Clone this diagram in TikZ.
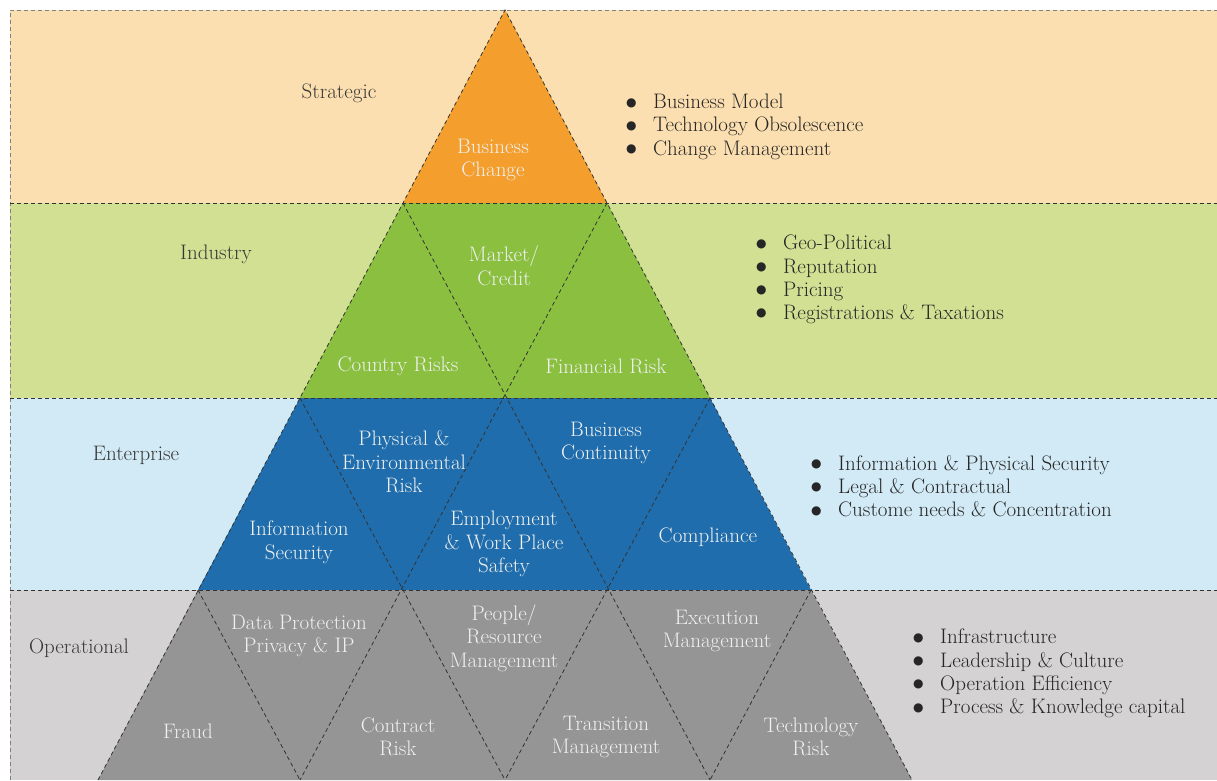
\documentclass[tikz,border=0pt]{standalone}
\usepackage{fontspec}
\newfontfamily\dejavu{DejaVu Sans}
\definecolor{cStrB}{HTML}{FCDFB0}
\definecolor{cStr}{HTML}{F49F2D}
\definecolor{cIndB}{HTML}{D2E093}
\definecolor{cInd}{HTML}{8ABF40}
\definecolor{cEntB}{HTML}{D2EAF6}
\definecolor{cEnt}{HTML}{1F6DAC}
\definecolor{cOpB}{HTML}{D4D2D3}
\definecolor{cOp}{HTML}{959595}
\newcommand{\bul}{\makebox[27pt][l]{\raisebox{2.5pt}{\dejavu\fontsize{12}{12}\selectfont ●}}}
\begin{document}
\begin{tikzpicture}[x=1pt,y=-1pt,
  dl/.style={dash pattern=on 4pt off 3pt, line width=0.8pt, draw=black!80},
  bl/.style={dash pattern=on 4pt off 3pt, line width=0.8pt, draw=black!50},
  tl/.style={text=white!94!black, align=center, inner sep=0pt, font=\fontsize{21}{23.5}\selectfont},
  bandlab/.style={text=black!78, inner sep=0pt, font=\fontsize{21}{23.5}\selectfont},
  blist/.style={anchor=north west, align=left, text=black!85, inner sep=0pt, font=\fontsize{21}{23.2}\selectfont}]
\useasboundingbox (0,0) rectangle (1217,780);
% key points
\coordinate (A) at (505,10);
\coordinate (L1) at (403,203); \coordinate (R1) at (607,203);
\coordinate (L2) at (300,398); \coordinate (R2) at (710,398);
\coordinate (L3) at (198,590); \coordinate (R3) at (811,590);
\coordinate (L4) at (98,780);  \coordinate (R4) at (912,780);
\coordinate (B1) at (300,780); \coordinate (B2) at (505,780); \coordinate (B3) at (710,780);
\coordinate (TL) at (10,10); \coordinate (TR) at (1217,10);
\coordinate (BL) at (10,780);
\coordinate (H1a) at (10,203); \coordinate (H1b) at (1217,203);
\coordinate (H2a) at (10,398); \coordinate (H2b) at (1217,398);
\coordinate (H3a) at (10,590); \coordinate (H3b) at (1217,590);
% bands
\fill[cStrB] (TL) rectangle (H1b);
\fill[cIndB] (H1a) rectangle (H2b);
\fill[cEntB] (H2a) rectangle (H3b);
\fill[cOpB] (H3a) rectangle (1217,780);
% pyramid levels
\fill[cStr] (A) -- (L1) -- (R1) -- cycle;
\fill[cInd] (L1) -- (L2) -- (R2) -- (R1) -- cycle;
\fill[cEnt] (L2) -- (L3) -- (R3) -- (R2) -- cycle;
\fill[cOp] (L3) -- (L4) -- (R4) -- (R3) -- cycle;
% dashed lines
\draw[bl] (BL) -- (TL) -- (TR);
\draw[dl] (H1a) -- (H1b);
\draw[dl] (H2a) -- (H2b);
\draw[dl] (H3a) -- (H3b);
\draw[dl] (L4) -- (A) -- (R4);
\draw[dl] (L1) -- (B3);
\draw[dl] (L2) -- (B2);
\draw[dl] (L3) -- (B1);
\draw[dl] (R1) -- (B1);
\draw[dl] (R2) -- (B2);
\draw[dl] (R3) -- (B3);
% band labels
\node[bandlab] (strategic) at (339,93) {Strategic};
\node[bandlab] (industry) at (216,254) {Industry};
\node[bandlab] (enterprise) at (136,455) {Enterprise};
\node[bandlab] (operational) at (79,648) {Operational};
% triangle labels
\node[tl] (bc) at (493,160) {Business\\Change};
\node[tl] (mc) at (504,266) {Market/\\Credit};
\node[tl] (cr) at (398,366) {Country Risks};
\node[tl] (fr) at (606,366) {Financial Risk};
\node[tl] (pe) at (404,462) {Physical \&\\Environmental\\Risk};
\node[tl] (bco) at (606,443) {Business\\Continuity};
\node[tl] (is) at (299,542) {Information\\Security};
\node[tl] (ew) at (504,544) {Employment\\\& Work Place\\Safety};
\node[tl] (co) at (708,537) {Compliance};
\node[tl] (dp) at (299,636) {Data Protection\\Privacy \& IP};
\node[tl] (pr) at (504,638) {People/\\Resource\\Management};
\node[tl] (em) at (717,631) {Execution\\Management};
\node[tl] (fra) at (188,731) {Fraud};
\node[tl] (ctr) at (398,737) {Contract\\Risk};
\node[tl] (tm) at (606,737) {Transition\\Management};
\node[tl] (tr) at (811,737) {Technology\\Risk};
% bullet lists
\node[blist] (ls) at (626,94) {\bul Business Model\\\bul Technology Obsolescence\\\bul Change Management};
\node[blist] (li) at (756,235) {\bul Geo-Political\\\bul Reputation\\\bul Pricing\\\bul Registrations \& Taxations};
\node[blist] (le) at (811,455) {\bul Information \& Physical Security\\\bul Legal \& Contractual\\\bul Custome needs \& Concentration};
\node[blist] (lo) at (913,629) {\bul Infrastructure\\\bul Leadership \& Culture\\\bul Operation Efficiency\\\bul Process \& Knowledge capital};
\end{tikzpicture}
\end{document}
